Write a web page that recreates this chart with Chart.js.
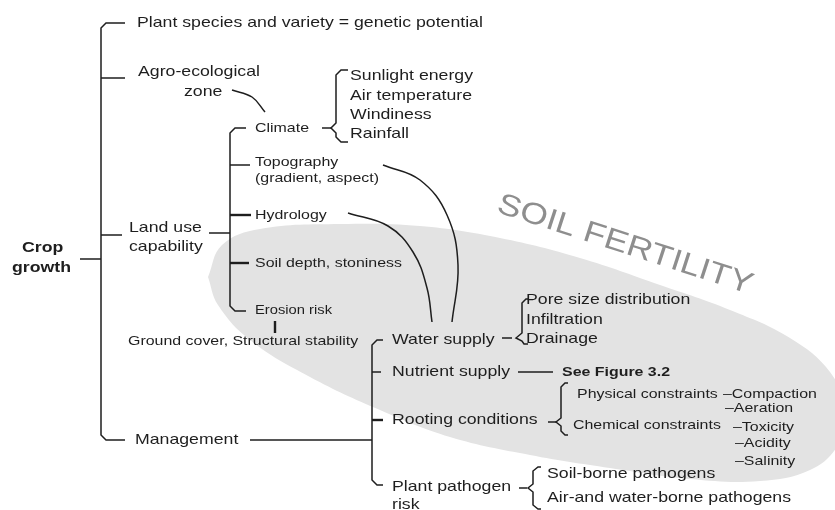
<!DOCTYPE html>
<html>
<head>
<meta charset="utf-8">
<title>Crop growth and soil fertility</title>
<script src="https://cdn.jsdelivr.net/npm/chart.js@4.4.1/dist/chart.umd.min.js"></script>
<style>
  html, body { margin: 0; padding: 0; background: #ffffff; }
  canvas { display: block; }
</style>
</head>
<body>
<canvas id="diagram" width="835" height="510"></canvas>
<script>
// Node labels of the diagram, placed on a hidden 0..835 / 0..510 grid
var labelText = [
    'Plant species and variety = genetic potential',
    'Agro-ecological', 'zone',
    'Land use', 'capability',
    'Management',
    'Sunlight energy', 'Air temperature', 'Windiness', 'Rainfall',
    'Water supply', 'Nutrient supply', 'Rooting conditions',
    'Plant pathogen', 'risk',
    'Pore size distribution', 'Infiltration', 'Drainage',
    'Soil-borne pathogens', 'Air-and water-borne pathogens',
    'Crop', 'growth',
    'Climate', 'Topography', '(gradient, aspect)', 'Hydrology',
    'Soil depth, stoniness', 'Erosion risk',
    'Ground cover, Structural stability',
    'Physical constraints', 'Chemical constraints',
    '\u2013Compaction', '\u2013Aeration', '\u2013Toxicity', '\u2013Acidity', '\u2013Salinity',
    'See Figure 3.2'
];
var labelX = [
    137,
    138, 184,
    129, 129,
    135,
    350, 350, 350, 350,
    392, 392, 392,
    392, 392,
    526, 526, 526,
    547, 547,
    22, 12,
    255, 255, 255, 255,
    255, 255,
    128,
    577, 573,
    723, 725, 733, 735, 735,
    562
];
var labelY = [
    23,
    72, 92,
    228, 247,
    440,
    76, 96, 115, 134,
    340, 372, 420,
    487, 505,
    300, 320, 339,
    474, 498,
    248, 268,
    128, 162, 178, 215,
    263, 311,
    341,
    394, 425,
    394, 408, 427, 443, 461,
    372
];
var labelKind = [
    'main',
    'main', 'main',
    'main', 'main',
    'main',
    'main', 'main', 'main', 'main',
    'main', 'main', 'main',
    'main', 'main',
    'main', 'main', 'main',
    'main', 'main',
    'head', 'head',
    'sub', 'sub', 'sub', 'sub',
    'sub', 'small',
    'sub',
    'sub', 'sub',
    'sub', 'sub', 'sub', 'sub', 'sub',
    'subBold'
];

// Brackets and connectors (x, y pairs on the same grid)
var bracketPaths = [
    [[125, 23], [106, 23], [101, 28], [101, 435], [106, 440], [125, 440]],
    [[101, 78], [125, 78]],
    [[101, 235], [122, 235]],
    [[80, 259], [101, 259]],
    [[246, 128], [235, 128], [230, 133], [230, 306], [235, 311], [246, 311]],
    [[230, 165], [250, 165]],
    [[209, 233], [230, 233]],
    [[322, 128], [331, 128]],
    [[348, 70], [341, 70], [336, 75], [336, 123], [331, 128], [336, 133], [336, 137], [341, 142], [348, 142]],
    [[250, 440], [372, 440]],
    [[383, 340], [377, 340], [372, 345], [372, 480], [377, 485], [383, 485]],
    [[372, 372], [381, 372]],
    [[502, 338], [512, 338]],
    [[528, 299], [526, 299], [522, 303], [522, 333], [516, 338], [522, 341], [524, 344], [528, 344]],
    [[518, 372], [553, 372]],
    [[548, 422], [556, 422]],
    [[568, 383], [565, 383], [561, 387], [561, 418], [556, 422], [561, 426], [561, 431], [565, 435], [568, 435]],
    [[519, 488], [527, 488]],
    [[541, 467], [538, 467], [533, 471], [533, 484], [528, 488], [533, 492], [533, 505], [538, 509], [541, 509]]
];
var heavyTicks = [
    [[230, 215], [251, 215]],
    [[230, 263], [249, 263]],
    [[275, 321], [275, 333]],
    [[372, 420], [383, 420]]
];
var curvePaths = [
    [[232, 90], [252, 97], [265, 112]],
    [[383, 165], [420, 180], [447, 215], [458, 265], [452, 322]],
    [[348, 213], [388, 226], [413, 252], [427, 288], [432, 322]]
];

// Outline of the shaded "soil fertility" zone, read round from its left tip
var zonePath = [
    [208, 277], [222, 245], [260, 229], [340, 224], [420, 226], [500, 238],
    [580, 258], [660, 285], [730, 310], [790, 338], [830, 372], [845, 410],
    [838, 445], [810, 470], [760, 481], [690, 479], [610, 468], [530, 455],
    [450, 437], [380, 410], [310, 377], [250, 340], [218, 305], [208, 277]
];
var zoneTitle = 'SOIL FERTILITY';
var zoneTitleAt = [625, 245];
var zoneTitleTilt = 18;

var ink = '#1e1e1e';
var fontFamily = '"Liberation Sans", Arial, Helvetica, sans-serif';
var textStyles = {
    main:    { font: '15px ' + fontFamily, stretch: 1.18 },
    head:    { font: 'bold 15px ' + fontFamily, stretch: 1.18 },
    sub:     { font: '13.5px ' + fontFamily, stretch: 1.18 },
    small:   { font: '12.5px ' + fontFamily, stretch: 1.18 },
    subBold: { font: 'bold 13.5px ' + fontFamily, stretch: 1.18 }
};

function toPoints(path) {
    return path.map(function(p) { return { x: p[0], y: p[1] }; });
}

function lineSet(path, width, tension) {
    return {
        data: toPoints(path),
        showLine: true,
        borderColor: ink,
        borderWidth: width,
        pointRadius: 0,
        pointHoverRadius: 0,
        tension: tension,
        fill: false,
        clip: false,
        order: 0
    };
}

// All labels drawn as real text at their grid positions
var labelPlugin = {
    id: 'nodeLabels',
    afterDatasetsDraw: function(chart) {
        var ctx = chart.ctx;
        var xs = chart.scales.x, ys = chart.scales.y;

        ctx.save();
        ctx.translate(xs.getPixelForValue(zoneTitleAt[0]), ys.getPixelForValue(zoneTitleAt[1]));
        ctx.rotate(zoneTitleTilt * Math.PI / 180);
        ctx.scale(1.18, 1);
        ctx.font = '30px ' + fontFamily;
        ctx.fillStyle = '#8e8e8e';
        ctx.textAlign = 'center';
        ctx.textBaseline = 'middle';
        ctx.fillText(zoneTitle, 0, 0);
        ctx.restore();

        labelText.forEach(function(t, i) {
            var st = textStyles[labelKind[i]];
            ctx.save();
            ctx.translate(xs.getPixelForValue(labelX[i]), ys.getPixelForValue(labelY[i]));
            ctx.scale(st.stretch, 1);
            ctx.font = st.font;
            ctx.fillStyle = ink;
            ctx.textAlign = 'left';
            ctx.textBaseline = 'middle';
            ctx.fillText(t, 0, 0);
            ctx.restore();
        });
    }
};

var datasets = [];
bracketPaths.forEach(function(p) { datasets.push(lineSet(p, 1.5, 0)); });
heavyTicks.forEach(function(p) { datasets.push(lineSet(p, 2.4, 0)); });
curvePaths.forEach(function(p) { datasets.push(lineSet(p, 1.5, 0.4)); });

// grey zone goes underneath everything else (higher order is drawn first)
datasets.push({
    data: toPoints(zonePath),
    showLine: true,
    borderWidth: 0,
    borderColor: 'rgba(0,0,0,0)',
    backgroundColor: '#e3e3e3',
    pointRadius: 0,
    pointHoverRadius: 0,
    tension: 0.4,
    fill: 'shape',
    clip: false,
    order: 5
});

var ctx = document.getElementById('diagram').getContext('2d');
var chart = new Chart(ctx, {
    type: 'scatter',
    data: { datasets: datasets },
    options: {
        responsive: false,
        animation: false,
        events: [],
        layout: { padding: 0 },
        plugins: {
            legend: { display: false },
            tooltip: { enabled: false },
            filler: { propagate: false }
        },
        scales: {
            x: { type: 'linear', min: 0, max: 835, display: false },
            y: { type: 'linear', min: 0, max: 510, reverse: true, display: false }
        }
    },
    plugins: [labelPlugin]
});
</script>
</body>
</html>
